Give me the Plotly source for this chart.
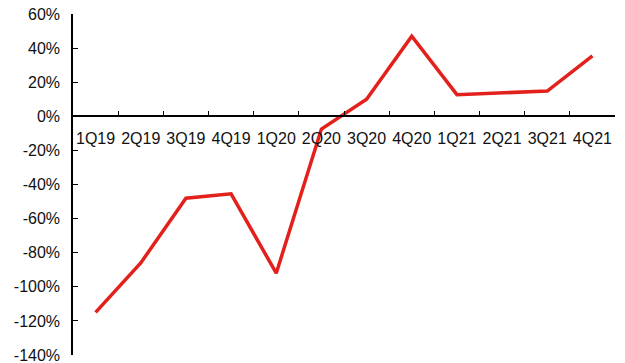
import plotly.graph_objects as go

quarters = ["1Q19", "2Q19", "3Q19", "4Q19", "1Q20", "2Q20", "3Q20", "4Q20",
            "1Q21", "2Q21", "3Q21", "4Q21"]
growth = [-115, -86, -48, -45.5, -92, -7.5, 10, 47, 12.7, 13.8, 14.8, 35.5]

fig = go.Figure()
fig.add_trace(go.Scatter(
    x=quarters, y=growth, mode="lines",
    line=dict(color="#E3211C", width=3.5),
    hoverinfo="skip", showlegend=False,
))

font = dict(family="Arial, Liberation Sans, sans-serif", size=16, color="#111111")

fig.update_layout(
    width=625, height=363,
    margin=dict(l=73, r=10, t=14, b=8),
    plot_bgcolor="white", paper_bgcolor="white",
    font=font,
    xaxis=dict(
        type="category",
        anchor="free", position=0.7,
        showline=True, linecolor="black", linewidth=1.5,
        ticks="inside", ticklen=5, tickcolor="black", tickwidth=1,
        tickson="boundaries",
        showgrid=False, zeroline=False,
        range=[-0.5, 11.5],
        tickangle=0,
        tickfont=font,
        ticklabelstandoff=8,
        ticklabeloverflow="allow",
        automargin=False,
    ),
    yaxis=dict(
        range=[-140, 60],
        tickvals=list(range(-140, 61, 20)),
        ticktext=[f"{v}%" for v in range(-140, 61, 20)],
        showline=True, linecolor="black", linewidth=1.5,
        ticks="inside", ticklen=5, tickcolor="black", tickwidth=1,
        showgrid=False, zeroline=False,
        tickfont=font,
        ticklabelstandoff=8,
        ticklabeloverflow="allow",
        automargin=False,
    ),
)

fig.write_html("out.html")
